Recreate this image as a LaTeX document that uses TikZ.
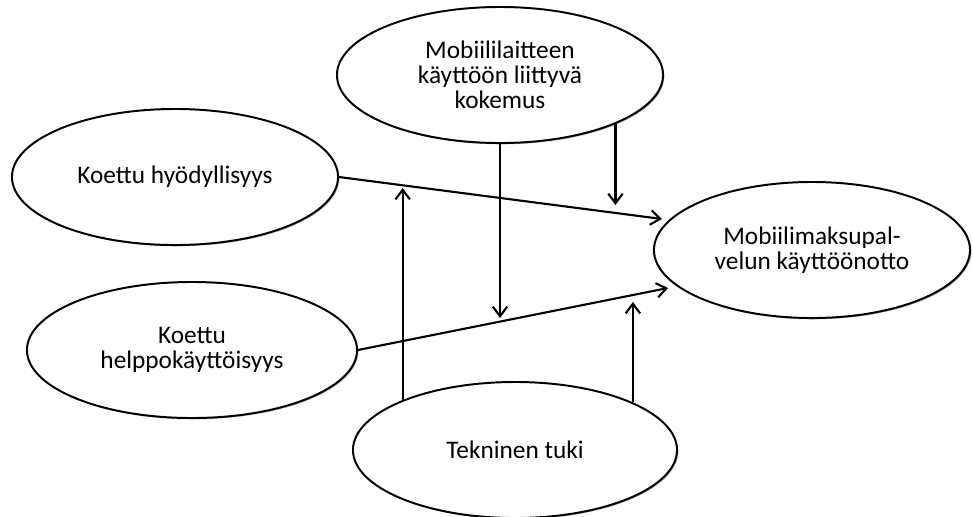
\documentclass[tikz,border=0pt]{standalone}
\usepackage{fontspec}
\setmainfont{Carlito}
\usepackage{tikz}
\usetikzlibrary{arrows.meta,shapes.geometric,shadows}

\begin{document}
\begin{tikzpicture}[
  x=0.025cm,y=-0.025cm,
  font=\fontsize{18}{17.8}\selectfont,
  oval/.style={ellipse,draw=black,line width=1.4pt,fill=white,minimum width=8.15cm,minimum height=3.4cm,align=center,inner sep=0pt,
    drop shadow={shadow xshift=0.9pt,shadow yshift=-0.9pt,opacity=0.35,fill=black}},
  arr/.style={-{Straight Barb[length=2.4mm,width=3.6mm,line width=1.5pt]},draw=black,line width=1.5pt}
]
\useasboundingbox (0,0) rectangle (973,516);
\node[oval] (kokemus) at (500,75) {Mobiililaitteen\\käyttöön liittyvä\\kokemus};
\node[oval] (hyodyl) at (175,177) {Koettu hyödyllisyys};
\node[oval,minimum width=8.25cm] (helppo) at (192,350) {Koettu\\helppokäyttöisyys};
\node[oval,minimum width=7.9cm] (kaytto) at (812,250) {Mobiilimaksupal-\\velun käyttöönotto};
\node[oval,minimum width=8.1cm] (tuki) at (515,450) {Tekninen tuki};
\coordinate (kaytto-a) at (662,219);
\coordinate (kaytto-b) at (668,288);
\coordinate (kaytto-c) at (614,205);
\coordinate (kaytto-d) at (632,302);
\coordinate (helppo-a) at (500,318);
\coordinate (hyodyl-a) at (402,188);
\draw[arr] (hyodyl.east) -- (kaytto-a);
\draw[arr] (helppo.east) -- (kaytto-b);
\draw[arr] (kokemus.south) -- (kokemus.south |- helppo-a);
\draw[arr] (kokemus.-23) -- (kokemus.-23 |- kaytto-c);
\draw[arr] (tuki.156.7) -- (tuki.156.7 |- hyodyl-a);
\draw[arr] (tuki.22) -- (tuki.22 |- kaytto-d);
\end{tikzpicture}
\end{document}
